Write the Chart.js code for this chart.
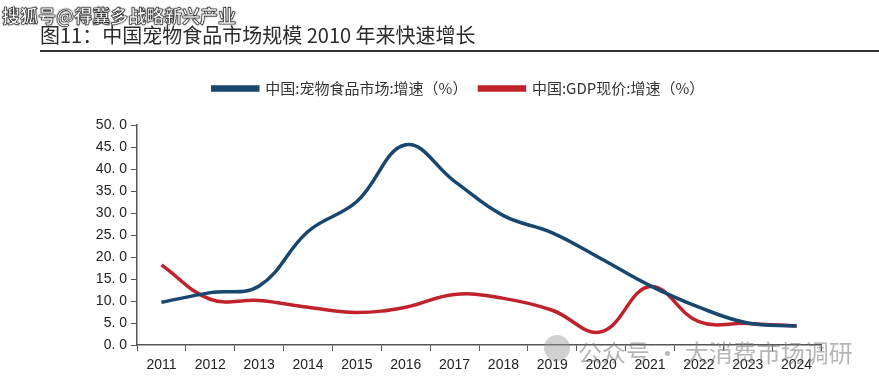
<!DOCTYPE html>
<html>
<head>
<meta charset="utf-8">
<script src="https://cdn.jsdelivr.net/npm/chart.js@4"></script>
<style>
  body { margin:0; background:#fff; }
  #wrap { position:relative; width:879px; height:387px; overflow:hidden; }
  #title { position:absolute; left:40px; top:20px; font:20px "Noto Sans CJK SC", sans-serif; color:#2b2b2b; white-space:nowrap; }
  #rule { position:absolute; left:40px; top:50px; width:839px; height:2px; background:#333; }
  #mark1 { position:absolute; left:2px; top:2px; font:bold 18px "Noto Sans CJK SC", sans-serif; color:#fff;
           -webkit-text-stroke:0.6px #222; text-shadow:0 0 2px #000; white-space:nowrap; }
  #mark2 { position:absolute; left:578px; top:334px; font:24px "Noto Sans CJK SC", sans-serif; color:rgba(120,120,120,0.55); white-space:nowrap; }
  #icon { position:absolute; left:544px; top:335px; width:26px; height:26px; border-radius:50%; background:rgba(150,150,150,0.45); }
  canvas { position:absolute; left:0; top:0; }
</style>
</head>
<body>
<div id="wrap">
  <canvas id="linechart" width="879" height="387"></canvas>
  <div id="title">图11：中国宠物食品市场规模 2010 年来快速增长</div>
  <div id="rule"></div>
  <div id="mark1">搜狐号@得冀多战略新兴产业</div>
  <div id="icon"></div>
  <div id="mark2">公众号 · 大消费市场调研</div>
</div>
<script>
const years = ['2011','2012','2013','2014','2015','2016','2017','2018','2019','2020','2021','2022','2023','2024']
const petFoodGrowth = [9.7, 11.9, 13.4, 25.8, 32.6, 45.5, 37.2, 29.4, 25.5, 19.6, 13.5, 8.6, 5.0, 4.3]
const gdpGrowth = [18.2, 10.4, 10.1, 8.6, 7.4, 8.6, 11.5, 10.6, 7.9, 3.0, 13.3, 5.3, 4.9, 4.3]
const yTicks = [0, 5, 10, 15, 20, 25, 30, 35, 40, 45, 50]

const blue = '#17466f'
const red = '#c0222b'

// legend sits a bit right of centre, with a gap below it
const legendShift = {
    id: 'legendShift',
    beforeLayout(chart) {
        const leg = chart.legend
        if (leg && !leg._patched) {
            const fit = leg.fit
            leg.fit = function () { fit.call(this); this.height += 19 }
            leg._patched = true
        }
    },
    afterLayout(chart) {
        chart.legend.left += 48
        chart.legend.right += 48
    }
}

//line chart
const ctx = document.getElementById('linechart')
const myChart = new Chart(ctx, {
    type: 'line',
    data: {
        labels: years,
        datasets: [{
            label: '中国:宠物食品市场:增速（%）',
            data: petFoodGrowth,
            borderColor: blue,
            backgroundColor: blue,
            borderWidth: 3.5,
            pointRadius: 0,
            tension: 0.4
        }, {
            label: '中国:GDP现价:增速（%）',
            data: gdpGrowth,
            borderColor: red,
            backgroundColor: red,
            borderWidth: 3.5,
            pointRadius: 0,
            tension: 0.4
        }]
    },
    options: {
        responsive: false,
        animation: false,
        layout: { padding: { top: 69, right: 58, left: 0, bottom: 0 } },
        plugins: {
            legend: {
                position: 'top',
                labels: {
                    boxWidth: 45,
                    boxHeight: 3,
                    padding: 12,
                    color: '#333',
                    font: { family: '"Noto Sans CJK SC", sans-serif', size: 15 }
                }
            },
            tooltip: { enabled: false }
        },
        scales: {
            x: {
                offset: true,
                grid: { display: true, drawOnChartArea: false, offset: true, tickLength: 6, color: '#555' },
                border: { color: '#555', width: 1.5 },
                ticks: { color: '#222', font: { family: '"Liberation Sans", sans-serif', size: 14 }, padding: 6, maxRotation: 0 },
                afterFit: s => { s.height = 42 }
            },
            y: {
                min: 0,
                max: 50,
                afterBuildTicks: s => { s.ticks = yTicks.map(v => ({ value: v })) },
                grid: { display: true, drawOnChartArea: false, tickLength: 6, color: '#555' },
                border: { color: '#555', width: 1.5 },
                ticks: {
                    color: '#222',
                    font: { family: '"Liberation Sans", sans-serif', size: 14 },
                    padding: 4,
                    callback: v => v.toFixed(1).replace('.', '. ')
                },
                afterFit: s => { s.width = 137 }
            }
        }
    },
    plugins: [legendShift]
});
</script>
</body>
</html>
